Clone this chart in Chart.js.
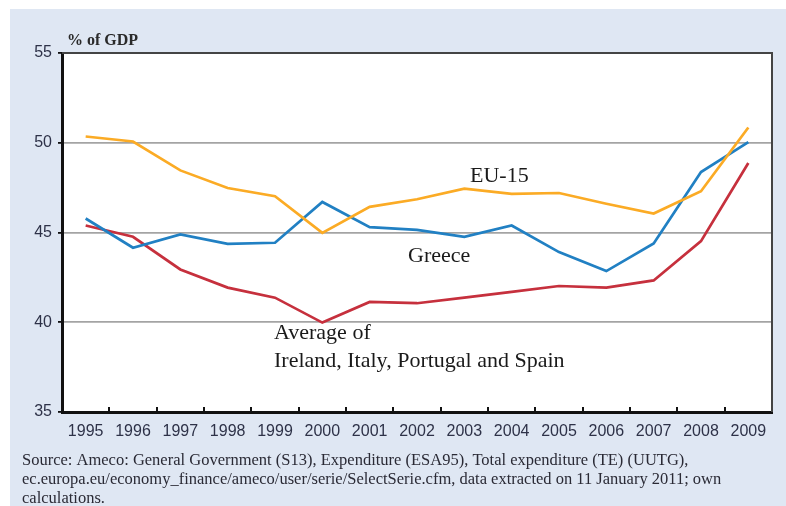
<!DOCTYPE html>
<html>
<head>
<meta charset="utf-8">
<script src="https://cdn.jsdelivr.net/npm/chart.js@4"></script>
<style>
  html, body { margin: 0; padding: 0; background: #ffffff; }
  #wrap { position: relative; width: 786px; height: 506px; }
</style>
</head>
<body>
<div id="wrap"><canvas id="GdpChart" width="786" height="506"></canvas></div>
<script>
// total general government expenditure, % of GDP
const years = ["1995", "1996", "1997", "1998", "1999", "2000", "2001", "2002",
               "2003", "2004", "2005", "2006", "2007", "2008", "2009"];
const eu15 = [50.35, 50.07, 48.46, 47.48, 47.02, 44.98, 46.43, 46.85,
              47.44, 47.15, 47.2, 46.6, 46.06, 47.3, 50.85];
const greece = [45.78, 44.15, 44.89, 44.37, 44.43, 46.7, 45.3, 45.15,
                44.76, 45.39, 43.91, 42.85, 44.39, 48.37, 50.04];
const southAvg = [45.39, 44.76, 42.94, 41.93, 41.37, 39.98, 41.13, 41.06,
                  41.37, 41.69, 42.02, 41.93, 42.33, 44.52, 48.87];
const yTicks = [35, 40, 45, 50, 55];

const sourceLines = [
    "Source: Ameco: General Government (S13), Expenditure (ESA95), Total expenditure (TE) (UUTG),",
    "ec.europa.eu/economy_finance/ameco/user/serie/SelectSerie.cfm, data extracted on 11 January 2011; own",
    "calculations."
];

const serif = "'Liberation Serif', 'DejaVu Serif', serif";

// background panel, white plot, frame, inward x ticks and text labels
const decorPlugin = {
    id: "decor",
    beforeDraw(chart) {
        const ctx = chart.ctx;
        const a = chart.chartArea;
        ctx.save();
        ctx.fillStyle = "#ffffff";
        ctx.fillRect(0, 0, chart.width, chart.height);
        ctx.fillStyle = "#dfe7f3";
        ctx.fillRect(10, 9, chart.width - 10, chart.height - 9);
        ctx.fillStyle = "#ffffff";
        ctx.fillRect(a.left, a.top, a.right - a.left, a.bottom - a.top);
        ctx.restore();
    },
    afterDraw(chart) {
        const ctx = chart.ctx;
        const a = chart.chartArea;
        const x = chart.scales.x;
        ctx.save();
        // top and right frame
        ctx.strokeStyle = "#444444";
        ctx.lineWidth = 2;
        ctx.beginPath();
        ctx.moveTo(a.left, a.top);
        ctx.lineTo(a.right, a.top);
        ctx.lineTo(a.right, a.bottom);
        ctx.stroke();
        // inward tick marks between the years
        ctx.strokeStyle = "#111111";
        ctx.lineWidth = 2;
        ctx.beginPath();
        for (let i = 1; i < years.length; i++) {
            const bx = Math.round((x.getPixelForTick(i - 1) + x.getPixelForTick(i)) / 2);
            ctx.moveTo(bx, a.bottom);
            ctx.lineTo(bx, a.bottom - 5);
        }
        ctx.stroke();

        ctx.fillStyle = "#2a2a2a";
        ctx.textBaseline = "alphabetic";
        ctx.font = "bold 16px " + serif;
        ctx.fillText("% of GDP", 67, 45);

        ctx.fillStyle = "#1a1a1a";
        ctx.font = "22px " + serif;
        ctx.fillText("EU-15", 470, 182);
        ctx.fillText("Greece", 408, 262);
        ctx.fillText("Average of", 274, 339);
        ctx.fillText("Ireland, Italy, Portugal and Spain", 274, 367);

        ctx.fillStyle = "#2a2a35";
        ctx.font = "16.5px " + serif;
        sourceLines.forEach((line, i) => {
            ctx.fillText(line, 22, 465 + i * 19);
        });
        ctx.restore();
    }
};

const gdp_chart_context = document.getElementById("GdpChart").getContext("2d");
Chart.defaults.font.family = "'Liberation Sans', Arial, sans-serif";

new Chart(gdp_chart_context, {
    type: "line",
    data: {
        labels: years,
        datasets: [
            {
                label: "EU-15",
                data: eu15,
                borderColor: "#fbab25", // orange
                borderWidth: 2.7
            },
            {
                label: "Greece",
                data: greece,
                borderColor: "#2180c3", // blue
                borderWidth: 2.7
            },
            {
                label: "Average of Ireland, Italy, Portugal and Spain",
                data: southAvg,
                borderColor: "#c6303d", // red
                borderWidth: 2.7
            }
        ]
    },
    options: {
        responsive: false,
        animation: false,
        layout: { padding: { top: 53, right: 14, left: 0, bottom: 0 } },
        elements: { point: { radius: 0 }, line: { tension: 0 } },
        plugins: {
            legend: { display: false },
            tooltip: { enabled: false }
        },
        scales: {
            x: {
                type: "category",
                offset: true,
                afterFit(scale) { scale.height = 94; },
                grid: { display: true, drawOnChartArea: false, drawTicks: false },
                border: { display: true, color: "#111111", width: 3 },
                ticks: {
                    padding: 10,
                    color: "#2e3248",
                    font: { size: 16 },
                    maxRotation: 0,
                    autoSkip: false
                }
            },
            y: {
                min: 35,
                max: 55,
                afterFit(scale) { scale.width = 62; },
                afterBuildTicks(scale) {
                    scale.ticks = yTicks.map(v => ({ value: v }));
                },
                grid: {
                    color: ctx => (ctx.tick.value === 35 || ctx.tick.value === 55) ? "rgba(0,0,0,0)" : "#a4a4a4",
                    lineWidth: 1.8,
                    tickColor: "#111111",
                    tickLength: 4
                },
                border: { display: true, color: "#111111", width: 3 },
                ticks: {
                    padding: 6,
                    color: "#2e3248",
                    font: { size: 16 }
                }
            }
        }
    },
    plugins: [decorPlugin]
});
</script>
</body>
</html>
